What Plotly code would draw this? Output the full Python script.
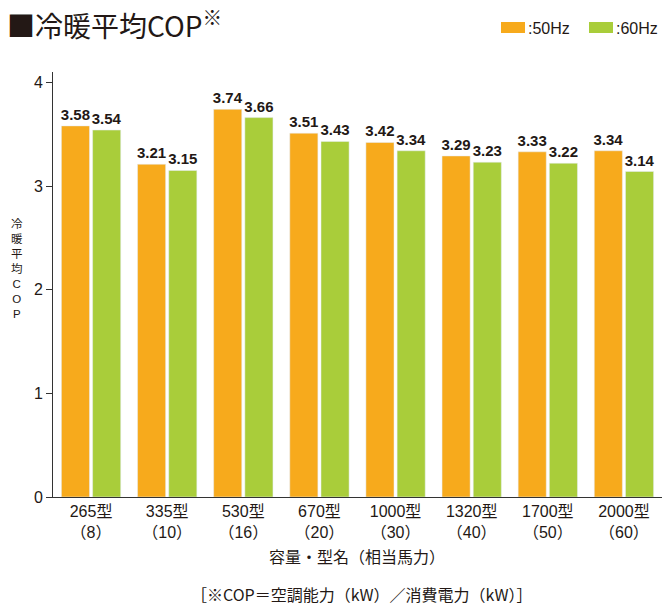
import plotly.graph_objects as go

categories = ["265型<br>（8）", "335型<br>（10）", "530型<br>（16）", "670型<br>（20）",
              "1000型<br>（30）", "1320型<br>（40）", "1700型<br>（50）", "2000型<br>（60）"]
cop_50hz = [3.58, 3.21, 3.74, 3.51, 3.42, 3.29, 3.33, 3.34]
cop_60hz = [3.54, 3.15, 3.66, 3.43, 3.34, 3.23, 3.22, 3.14]
y_ticks = [0, 1, 2, 3, 4]
series_names = [":50Hz", ":60Hz"]
series_colors = ["#F7AA1C", "#A9CD3A"]
y_title_chars = ["冷", "暖", "平", "均", "C", "O", "P"]

FONT = "Liberation Sans, Noto Sans CJK JP, sans-serif"
LABEL_FONT = "Liberation Sans, sans-serif"
CJK = "Noto Sans CJK JP, sans-serif"
INK = "#231815"

fig = go.Figure()
for vals, name, col in zip([cop_50hz, cop_60hz], series_names, series_colors):
    fig.add_trace(go.Bar(x=categories, y=vals, name=name, marker_color=col,
                         text=[f"{v:.2f}" for v in vals], textposition="outside",
                         constraintext="none",
                         textfont=dict(family=LABEL_FONT, size=15, color=INK, weight="bold"),
                         cliponaxis=False, showlegend=False))

W, H = 668, 605
L, R, T, B = 53, 6, 72, 108
pw, ph = W - L - R, H - T - B

def px(x):
    return (x - L) / pw

def py(y):
    return (H - B - y) / ph

fig.update_layout(
    width=W, height=H,
    margin=dict(l=L, r=R, t=T, b=B),
    plot_bgcolor="white", paper_bgcolor="white",
    font=dict(family=FONT, color=INK, size=15),
    barmode="group", bargap=0.18, bargroupgap=0.1,
    xaxis=dict(showline=True, linecolor="#333", linewidth=1, ticks="",
               tickfont=dict(size=16), showgrid=False),
    yaxis=dict(range=[0, 4.1], tickvals=y_ticks, showline=True, linecolor="#333",
               linewidth=1, ticks="outside", ticklen=6, tickcolor="#333",
               tickfont=dict(size=16), showgrid=False, zeroline=False),
)

# legend swatches + labels
legend_x = [501, 589]
for lx, name, col in zip(legend_x, series_names, series_colors):
    fig.add_shape(type="rect", xref="paper", yref="paper",
                  x0=px(lx), x1=px(lx + 24), y0=py(33), y1=py(22),
                  fillcolor=col, line=dict(width=0))
    fig.add_annotation(text=name, xref="paper", yref="paper", x=px(lx + 25), y=py(28),
                       xanchor="left", yanchor="middle", showarrow=False,
                       font=dict(size=16, color=INK))

fig.add_annotation(text="■冷暖平均COP<sup>※</sup>", xref="paper", yref="paper",
                   x=px(5), y=py(24), xanchor="left", yanchor="middle",
                   showarrow=False, font=dict(size=28, color=INK, family=CJK))

# vertical y-axis title
fig.add_annotation(text="<br>".join(y_title_chars), xref="paper", yref="paper",
                   x=px(17), y=py(269), xanchor="center", yanchor="middle",
                   showarrow=False, font=dict(size=11.5, color=INK, family=FONT))

fig.add_annotation(text="容量・型名（相当馬力）", xref="paper", yref="paper",
                   x=px(357), y=py(556), xanchor="center", yanchor="middle",
                   showarrow=False, font=dict(size=16, color=INK, family=CJK))
fig.add_annotation(text="［※COP＝空調能力（kW）／消費電力（kW）］", xref="paper", yref="paper",
                   x=px(361), y=py(594), xanchor="center", yanchor="middle",
                   showarrow=False, font=dict(size=16, color=INK, family=CJK))

fig.write_html("out.html", config={"displayModeBar": False},
               post_script="document.body.style.margin='0';document.body.style.overflow='hidden';")
